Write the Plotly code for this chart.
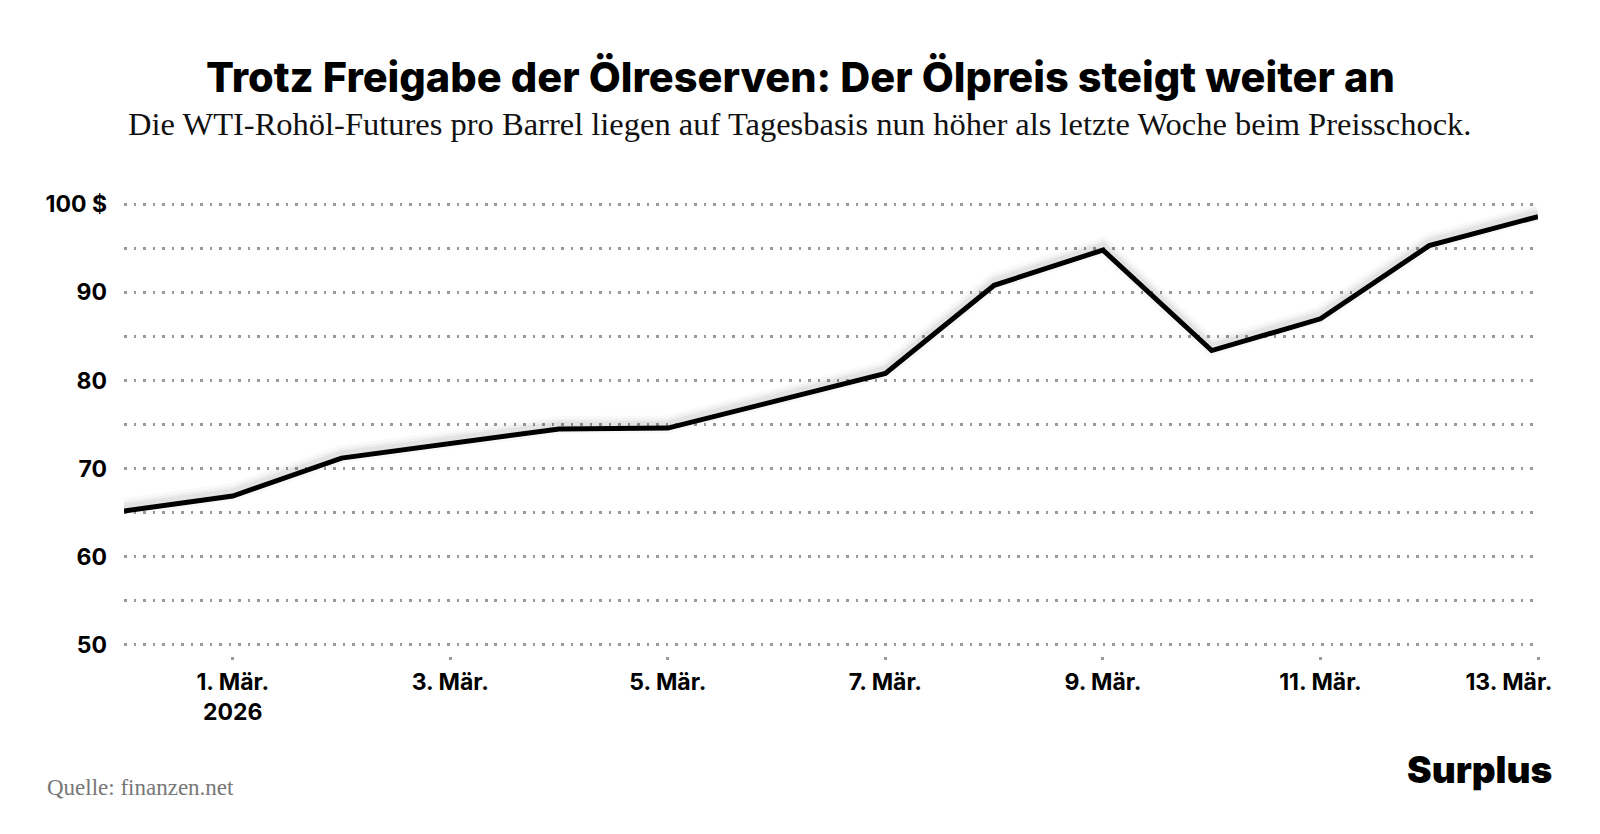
import plotly.graph_objects as go

dates = ["2026-02-28", "2026-03-01", "2026-03-02", "2026-03-04", "2026-03-05",
         "2026-03-07", "2026-03-08", "2026-03-09", "2026-03-10", "2026-03-11",
         "2026-03-12", "2026-03-13"]
prices = [65.2, 66.9, 71.2, 74.5, 74.6, 80.8, 90.8, 94.8, 83.4, 87.0, 95.3, 98.6]

x_tickvals = ["2026-03-01", "2026-03-03", "2026-03-05", "2026-03-07",
              "2026-03-09", "2026-03-11", "2026-03-13"]
x_ticktext = ["1. Mär.<br>2026", "3. Mär.", "5. Mär.", "7. Mär.",
              "9. Mär.", "11. Mär.", "13. Mär."]
y_tickvals = [50, 60, 70, 80, 90, 100]
y_ticktext = ["50", "60", "70", "80", "90", "100 $"]

title = "Trotz Freigabe der Ölreserven: Der Ölpreis steigt weiter an"
subtitle = "Die WTI-Rohöl-Futures pro Barrel liegen auf Tagesbasis nun höher als letzte Woche beim Preisschock."
source = "Quelle: finanzen.net"
brand = "Surplus"

SANS = "Inter, Roboto, Liberation Sans, sans-serif"
SERIF = "Liberation Serif, DejaVu Serif, serif"

W, H = 1600, 834
# the page adds an 8px body margin, so positions are given 8px up/left
ml, mr, mt, mb = 116, 70, 194, 186
pw, ph = W - ml - mr, H - mt - mb
ydom0 = 0.0194

fig = go.Figure()

# soft drop shadow, drawn on invisible, slightly shifted axes
for w, a in [(18, 0.025), (12, 0.035), (7, 0.05)]:
    fig.add_trace(go.Scatter(x=dates, y=prices, mode="lines", xaxis="x2", yaxis="y2",
                             line=dict(color=f"rgba(0,0,0,{a})", width=w),
                             hoverinfo="skip", showlegend=False))

fig.add_trace(go.Scatter(x=dates, y=prices, mode="lines",
                         line=dict(color="#000000", width=5),
                         cliponaxis=False, showlegend=False))

grid = dict(gridcolor="#9a9a9a", gridwidth=2.5, griddash="2.5px,7px")
xrange = [dates[0], dates[-1]]
xcommon = dict(type="date", range=xrange, anchor="free", position=0, automargin=False,
               showgrid=False, zeroline=False, showline=False,
               ticks="outside", ticklen=3, tickwidth=2.5,
               ticklabelstandoff=2,
               tickfont=dict(family=SANS, size=23, color="#000", weight=700))

fig.update_layout(
    width=W, height=H,
    paper_bgcolor="white", plot_bgcolor="white",
    margin=dict(l=ml, r=mr, t=mt, b=mb, autoexpand=False),
    xaxis=dict(**xcommon, tickcolor="#9a9a9a",
               tickvals=x_tickvals, ticktext=x_ticktext[:-1] + [""]),
    # last date label, nudged left so it stays inside the chart like the original
    xaxis2=dict(**xcommon, overlaying="x", tickcolor="rgba(0,0,0,0)",
                tickvals=x_tickvals[-1:], ticktext=x_ticktext[-1:],
                ticklabelshift=-29),
    yaxis=dict(
        domain=[ydom0, 1],
        range=[49.75, 100.25], automargin=False,
        tickvals=y_tickvals, ticktext=y_ticktext,
        showgrid=True, **grid,
        minor=dict(dtick=5, tick0=0, showgrid=True, **grid),
        zeroline=False, showline=False, ticks="",
        ticklabelstandoff=16,
        tickfont=dict(family=SANS, size=23, color="#000", weight=700),
    ),
    yaxis2=dict(domain=[ydom0, 1], range=[49.3, 99.8], overlaying="y",
                visible=False, automargin=False),
)

texts = [
    (title, 792, 69, "center", dict(family=SANS, size=41.5, color="#000", weight=800)),
    (subtitle, 792, 116, "center", dict(family=SERIF, size=32.5, color="#111")),
    (source, 37, 779, "left", dict(family=SERIF, size=23, color="#777")),
    (brand, 1546, 761, "right", dict(family=SANS, size=37, color="#000", weight=900)),
]
for txt, px, py, anchor, font in texts:
    fig.add_annotation(text=txt, xref="paper", yref="paper",
                       x=(px - ml) / pw, y=(H - mb - py) / ph,
                       xanchor=anchor, yanchor="middle", showarrow=False, font=font)

fig.write_html("out.html", config={"displayModeBar": False})
